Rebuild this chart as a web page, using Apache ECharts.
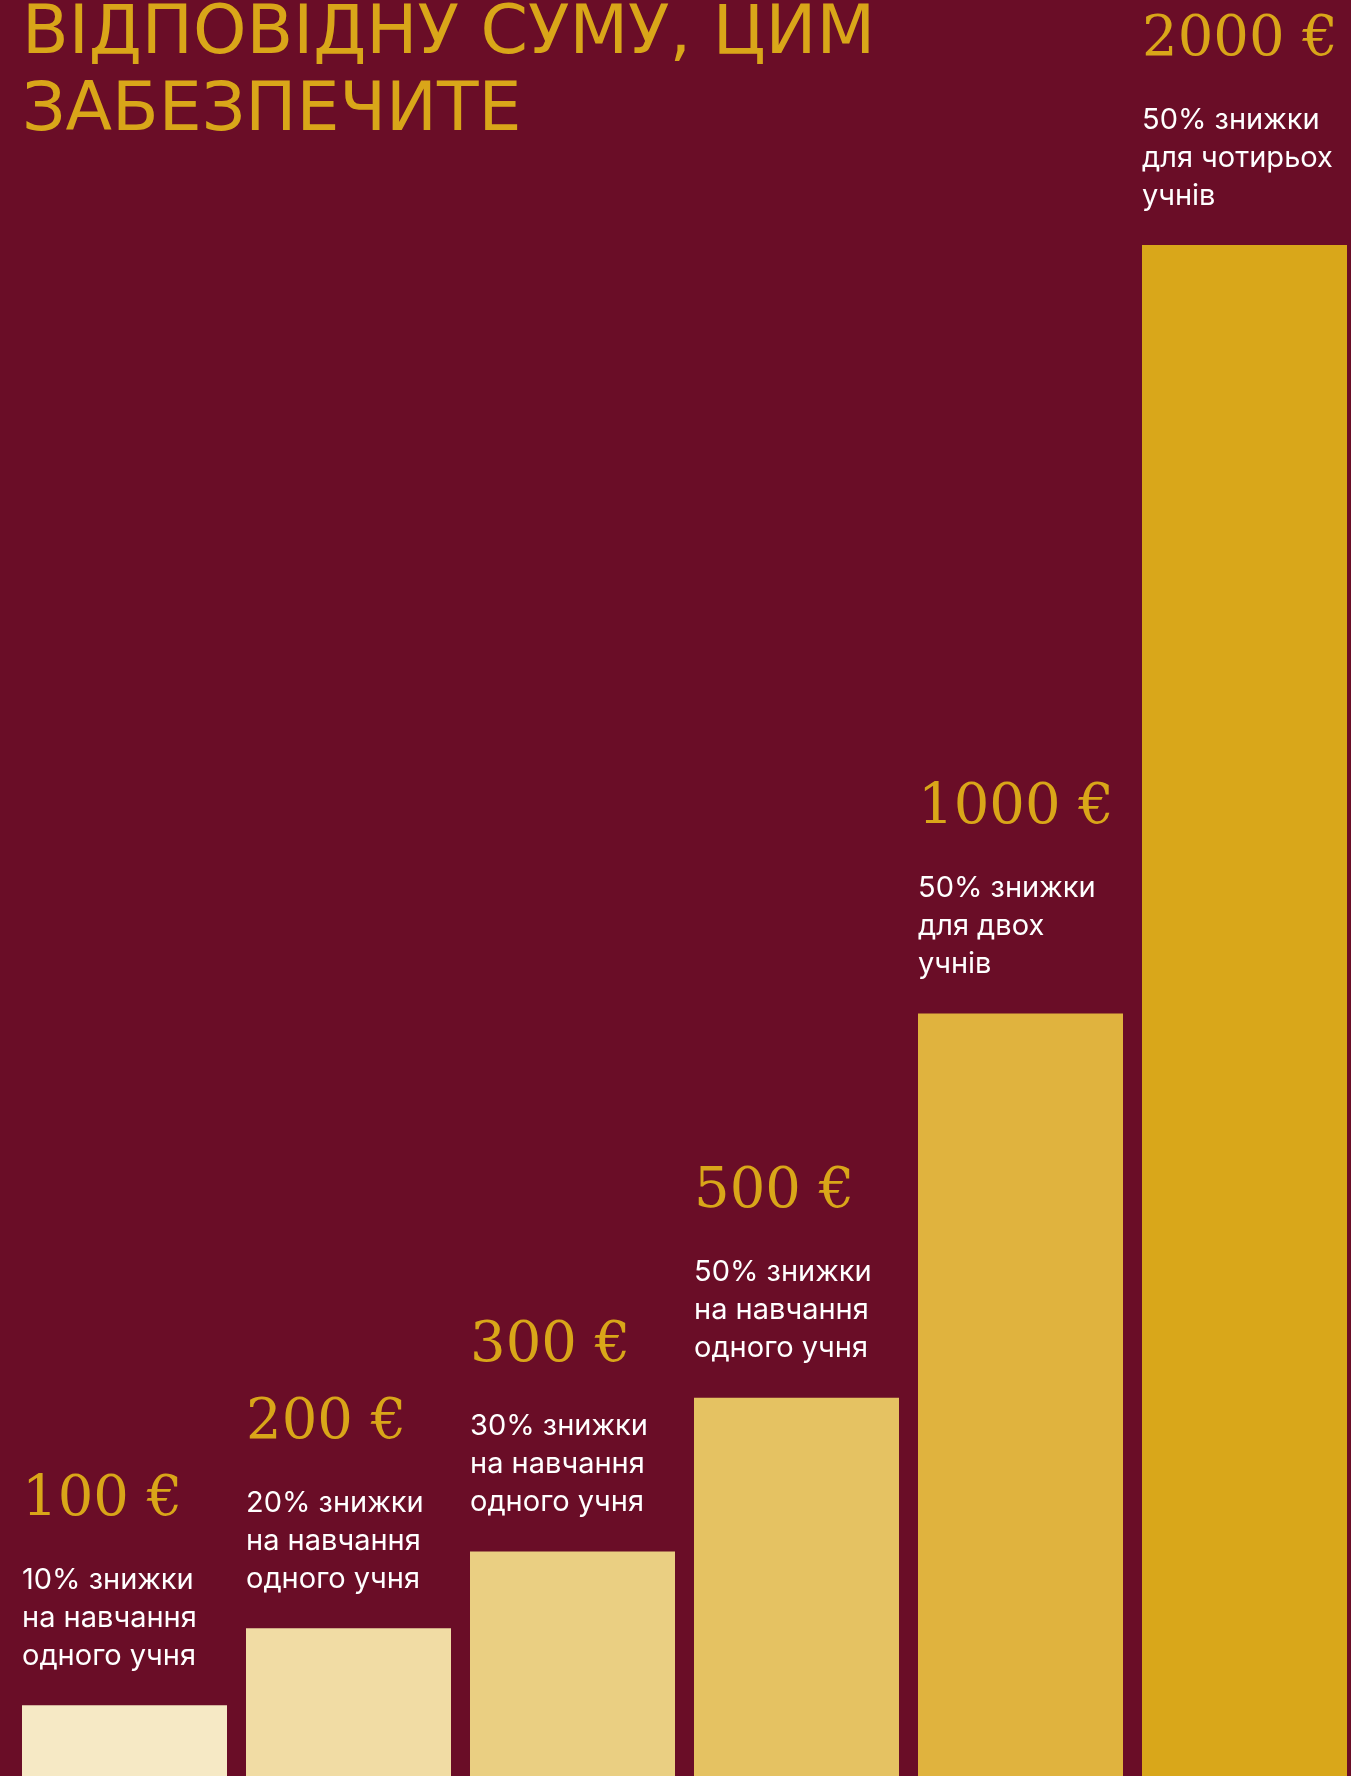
<!DOCTYPE html>
<html>
<head>
<meta charset="utf-8">
<script src="https://cdn.jsdelivr.net/npm/echarts@6/dist/echarts.min.js"></script>
<style>
html,body{margin:0;padding:0;background:#6A0D27;overflow:hidden;}
#chart{width:1360px;height:1790px;}
</style>
</head>
<body>
<div id="chart"></div>
<script>
const titleLines = ['ВІДПОВІДНУ СУМУ, ЦИМ', 'ЗАБЕЗПЕЧИТЕ'];
const categories = ['100', '200', '300', '500', '1000', '2000'];
const amounts = [100, 200, 300, 500, 1000, 2000];
const valueLabels = ['100 €', '200 €', '300 €', '500 €', '1000 €', '2000 €'];
const descriptions = [
  ['10% знижки', 'на навчання', 'одного учня'],
  ['20% знижки', 'на навчання', 'одного учня'],
  ['30% знижки', 'на навчання', 'одного учня'],
  ['50% знижки', 'на навчання', 'одного учня'],
  ['50% знижки', 'для двох', 'учнів'],
  ['50% знижки', 'для чотирьох', 'учнів']
];
const barColors = ['#F6E9C5', '#F1DCA4', '#EACF82', '#E5C262', '#E0B33E', '#D9A71A'];

const chart = echarts.init(document.getElementById('chart'));
chart.setOption({
  backgroundColor: '#6A0D27',
  animation: false,
  title: {
    text: titleLines.join('\n'),
    left: 22,
    top: -3,
    padding: 0,
    textStyle: {
      color: '#D9A619',
      fontFamily: 'DejaVu Sans',
      fontWeight: 'normal',
      fontSize: 68,
      lineHeight: 77
    }
  },
  grid: { left: 12.5, width: 1344, top: 245, height: 1537 },
  xAxis: {
    type: 'category',
    data: categories,
    show: false
  },
  yAxis: {
    type: 'value',
    min: 0,
    max: 2000,
    show: false
  },
  series: [{
    type: 'bar',
    barWidth: 205,
    data: amounts.map((v, i) => ({
      value: v,
      itemStyle: { color: barColors[i] },
      label: {
        formatter: '{v|' + valueLabels[i] + '}\n' + descriptions[i].map(t => '{d|' + t + '}').join('\n')
      }
    })),
    label: {
      show: true,
      position: [0, 0],
      align: 'left',
      verticalAlign: 'bottom',
      padding: [0, 0, 30, 0],
      rich: {
        v: {
          color: '#D9A619',
          fontFamily: 'DejaVu Serif',
          fontSize: 56,
          lineHeight: 122
        },
        d: {
          color: '#FFFFFF',
          fontFamily: 'Inter',
          fontSize: 29,
          lineHeight: 38
        }
      }
    }
  }]
});
</script>
</body>
</html>
